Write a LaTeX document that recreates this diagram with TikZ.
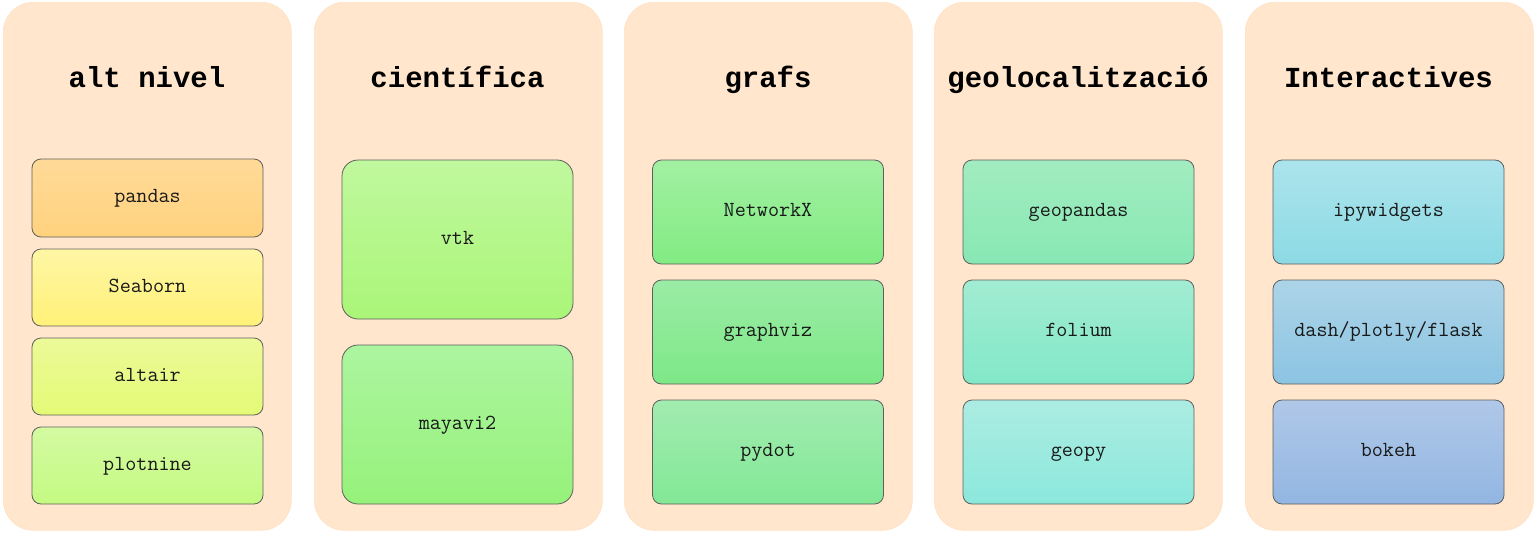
\documentclass[tikz,border=0pt]{standalone}
\usepackage{fontspec}
\newfontfamily\titlefont{Liberation Mono}
\usetikzlibrary{shadings}
\definecolor{panelfill}{RGB}{255,230,204}
\definecolor{panelline}{RGB}{255,224,194}
\definecolor{boxline}{RGB}{95,95,95}
\tikzset{
  panel/.style={fill=panelfill, draw=panelline, line width=0.6pt, rounded corners=30pt},
  paneltitle/.style={font=\fontsize{29}{32}\selectfont\titlefont\bfseries, text=black,
                     text height=20pt, text depth=6pt},
  lib/.style={draw=boxline, line width=0.8pt, rounded corners=9pt, minimum width=231pt,
              font=\fontsize{21.5}{23}\selectfont\ttfamily, text=black!90, inner sep=0pt,
              text height=12pt, text depth=3pt},
  libtall/.style={lib, rounded corners=16pt},
  grad/.style n args={6}{top color={rgb,255:red,#1;green,#2;blue,#3},
                         bottom color={rgb,255:red,#4;green,#5;blue,#6}}
}
\begin{document}
\begin{tikzpicture}[x=1pt,y=-1pt]
\useasboundingbox (0,0) rectangle (1535,533);

% column backgrounds
\foreach \px/\nm in {3/p1,314/p2,624/p3,934/p4,1245/p5}{
  \node[panel, minimum width=288pt, minimum height=528pt, anchor=north west, inner sep=0pt] (\nm) at (\px,2) {};
}

% column titles
\node[paneltitle] (t1) at (147,80) {alt nivel};
\node[paneltitle] (t2) at (457.5,80) {científica};
\node[paneltitle] (t3) at (768,80) {grafs};
\node[paneltitle] (t4) at (1078,80) {geolocalització};
\node[paneltitle] (t5) at (1388.5,80) {Interactives};

% alt nivel
\node[lib, minimum height=78pt, grad={255}{218}{152}{255}{210}{125}] (pandas) at (147.5,198) {pandas};
\node[lib, minimum height=77pt, grad={255}{246}{165}{255}{241}{120}] (seaborn) at (147.5,287.5) {Seaborn};
\node[lib, minimum height=77pt, grad={236}{250}{152}{228}{250}{118}] (altair) at (147.5,376.5) {altair};
\node[lib, minimum height=77pt, grad={212}{250}{162}{196}{250}{130}] (plotnine) at (147.5,465.5) {plotnine};

% cientifica
\node[libtall, minimum height=159pt, grad={192}{248}{158}{170}{246}{120}] (vtk) at (457.5,239.5) {vtk};
\node[libtall, minimum height=159pt, grad={172}{245}{160}{150}{242}{122}] (mayavi) at (457.5,424.5) {mayavi2};

% grafs
\node[lib, minimum height=104pt, grad={162}{240}{162}{130}{236}{130}] (networkx) at (768,212) {NetworkX};
\node[lib, minimum height=104pt, grad={155}{236}{165}{125}{232}{135}] (graphviz) at (768,332) {graphviz};
\node[lib, minimum height=104pt, grad={162}{236}{176}{130}{232}{150}] (pydot) at (768,452) {pydot};

% geolocalitzacio
\node[lib, minimum height=104pt, grad={162}{236}{192}{135}{232}{180}] (geopandas) at (1078.5,212) {geopandas};
\node[lib, minimum height=104pt, grad={162}{236}{210}{130}{232}{200}] (folium) at (1078.5,332) {folium};
\node[lib, minimum height=104pt, grad={172}{236}{226}{140}{232}{220}] (geopy) at (1078.5,452) {geopy};

% interactives
\node[lib, minimum height=104pt, grad={172}{228}{236}{140}{218}{228}] (ipywidgets) at (1388.5,212) {ipywidgets};
\node[lib, minimum height=104pt, grad={172}{212}{232}{140}{196}{226}] (dash) at (1388.5,332) {dash/plotly/flask};
\node[lib, minimum height=104pt, grad={176}{200}{232}{146}{182}{226}] (bokeh) at (1388.5,452) {bokeh};
\end{tikzpicture}
\end{document}
